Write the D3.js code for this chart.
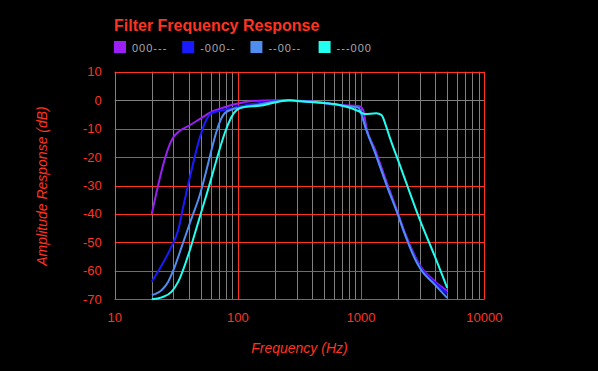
<!DOCTYPE html>
<html>
<head>
<meta charset="utf-8">
<script src="https://cdn.jsdelivr.net/npm/d3@7"></script>
<style>
    body { margin: 0; background: #000; }
    svg { display: block; font-family: "Liberation Sans", Arial, sans-serif; }
</style>
</head>
<body>
<div id="chart"></div>
<script>
// series names + colours
let seriesNames = ["000---", "-000--", "--00--", "---000"]
let seriesColors = ["#9b1ff5", "#1a1aff", "#4f8ef0", "#22fff0"]

// frequency (Hz) and amplitude (dB)
let purpleFreq = [20, 29.5, 31, 33, 40, 50, 60, 80, 100, 125, 200, 250, 300, 500, 670, 970, 1040, 1100, 1300, 1600, 2000, 2260, 2750, 3000, 4000, 5000]
let purpleDb   = [-40, -13.5, -12.2, -11.1, -9, -6.4, -4.3, -2.3, -1.2, -0.4, 0, 0, -0.2, -1, -1.7, -2.1, -3.5, -9.3, -17.5, -28.5, -40, -46.5, -55, -58, -63.8, -67]

let blueFreq = [20, 23.3, 28, 32.8, 37, 61, 80, 100, 150, 200, 250, 300, 500, 670, 950, 1000, 1080, 1300, 1600, 2000, 2260, 2750, 3000, 4000, 5000]
let blueDb   = [-63.8, -59.1, -52.7, -45.6, -35.1, -4.6, -3.3, -2.3, -1, -0.3, 0, -0.2, -1, -1.8, -2.5, -4.6, -9.3, -18.5, -29.5, -40.5, -47, -55.5, -58.5, -64.3, -68]

let lightFreq = [20, 24.1, 27.2, 30, 35, 40.7, 47.6, 78, 92, 100, 150, 200, 250, 300, 500, 670, 950, 1000, 1080, 1300, 1600, 2000, 2260, 2750, 3000, 4000, 5000]
let lightDb   = [-68.5, -66.7, -63.8, -59.7, -51.5, -43.3, -35.1, -4.6, -3.1, -2.8, -1.5, -0.5, 0, -0.2, -1, -1.8, -2.6, -4.6, -9.3, -18.5, -29.5, -40.5, -47, -56, -59, -65, -69.5]

let cyanFreq = [20, 24.1, 29, 32.8, 40, 44.8, 54, 97.5, 115, 150, 200, 262, 300, 500, 670, 970, 1070, 1330, 1460, 1600, 1700, 2040, 3000, 4000, 5000]
let cyanDb   = [-70, -69.3, -67.3, -63.8, -53.8, -46.8, -35.1, -3.5, -2.3, -2, -0.8, 0, -0.3, -1, -1.7, -4, -4.9, -4.6, -5.2, -9.3, -12.8, -22.2, -42.1, -55.3, -66]

let xTicks = [10, 100, 1000, 10000]
let yTicks = [10, 0, -10, -20, -30, -40, -50, -60, -70]

;(function () {
    let w = 598
    let h = 371
    let left = 114.7, right = 484.3, top = 71.7, bottom = 299.3
    let red = "#ff3320"
    let gray = "#808080"

    let svg = d3.select("#chart")
        .append("svg")
        .attr("width", w)
        .attr("height", h)

    svg.append("rect").attr("width", w).attr("height", h).attr("fill", "#000")

    let x = d3.scaleLog().domain([10, 10000]).range([left, right])
    let y = d3.scaleLinear().domain([-70, 10]).range([bottom, top])

    // minor vertical grid
    let minor = []
    for (let dec of [10, 100, 1000]) {
        for (let k = 2; k <= 9; k++) minor.push(dec * k)
    }
    svg.append("g").selectAll("line")
        .data(minor)
        .enter().append("line")
        .attr("x1", d => Math.round(x(d)) + 0.5).attr("x2", d => Math.round(x(d)) + 0.5)
        .attr("y1", top).attr("y2", bottom)
        .attr("stroke", gray).attr("stroke-width", 1)

    // horizontal grid (0 line gray)
    svg.append("g").selectAll("line")
        .data(yTicks)
        .enter().append("line")
        .attr("x1", left).attr("x2", right)
        .attr("y1", d => Math.round(y(d)) + 0.5).attr("y2", d => Math.round(y(d)) + 0.5)
        .attr("stroke", d => d === 0 ? gray : red).attr("stroke-width", 1)

    // major vertical grid (left edge gray)
    svg.append("g").selectAll("line")
        .data(xTicks)
        .enter().append("line")
        .attr("x1", d => Math.round(x(d)) + 0.5).attr("x2", d => Math.round(x(d)) + 0.5)
        .attr("y1", top).attr("y2", bottom)
        .attr("stroke", d => d === 10 ? gray : red).attr("stroke-width", 1)

    // bottom edge red on top
    svg.append("line")
        .attr("x1", left).attr("x2", right)
        .attr("y1", Math.round(y(-70)) + 0.5).attr("y2", Math.round(y(-70)) + 0.5)
        .attr("stroke", red)

    // tick labels
    svg.append("g").selectAll("text")
        .data(yTicks)
        .enter().append("text")
        .attr("x", left - 13)
        .attr("y", d => y(d) + 4.5)
        .attr("text-anchor", "end")
        .attr("fill", red)
        .style("font-size", "13px")
        .text(d => d)

    svg.append("g").selectAll("text")
        .data(xTicks)
        .enter().append("text")
        .attr("x", d => x(d))
        .attr("y", 322)
        .attr("text-anchor", "middle")
        .attr("fill", red)
        .style("font-size", "13px")
        .text(d => d)

    // curves
    let series = [
        { f: purpleFreq, v: purpleDb },
        { f: blueFreq, v: blueDb },
        { f: lightFreq, v: lightDb },
        { f: cyanFreq, v: cyanDb }
    ]

    let line = d3.line()
        .x(d => x(d[0]))
        .y(d => y(d[1]))
        .curve(d3.curveMonotoneX)

    series.forEach((s, i) => {
        svg.append("path")
            .datum(s.f.map((f, j) => [f, s.v[j]]))
            .attr("fill", "none")
            .attr("stroke", seriesColors[i])
            .attr("stroke-width", 2)
            .attr("stroke-linejoin", "round")
            .attr("d", line)
    })

    // title
    svg.append("text")
        .attr("x", 114)
        .attr("y", 31)
        .attr("fill", red)
        .style("font-size", "16px")
        .style("font-weight", "bold")
        .text("Filter Frequency Response")

    // legend
    let legend = svg.append("g").selectAll("g")
        .data(seriesNames)
        .enter().append("g")
        .attr("transform", (d, i) => "translate(" + (114 + i * 68.2) + ",41)")

    legend.append("rect")
        .attr("width", 12).attr("height", 12)
        .attr("fill", (d, i) => seriesColors[i])

    legend.append("text")
        .attr("x", 18)
        .attr("y", 10.5)
        .attr("fill", "#aaaaaa")
        .style("font-size", "11px")
        .style("letter-spacing", "1px")
        .text(d => d)

    // axis titles
    svg.append("text")
        .attr("x", x(316))
        .attr("y", 353)
        .attr("text-anchor", "middle")
        .attr("fill", red)
        .style("font-size", "14px")
        .style("font-style", "italic")
        .text("Frequency (Hz)")

    svg.append("text")
        .attr("transform", "rotate(-90)")
        .attr("x", -186)
        .attr("y", 47)
        .attr("text-anchor", "middle")
        .attr("fill", red)
        .style("font-size", "14px")
        .style("font-style", "italic")
        .text("Amplitude Response (dB)")
})()
</script>
</body>
</html>
